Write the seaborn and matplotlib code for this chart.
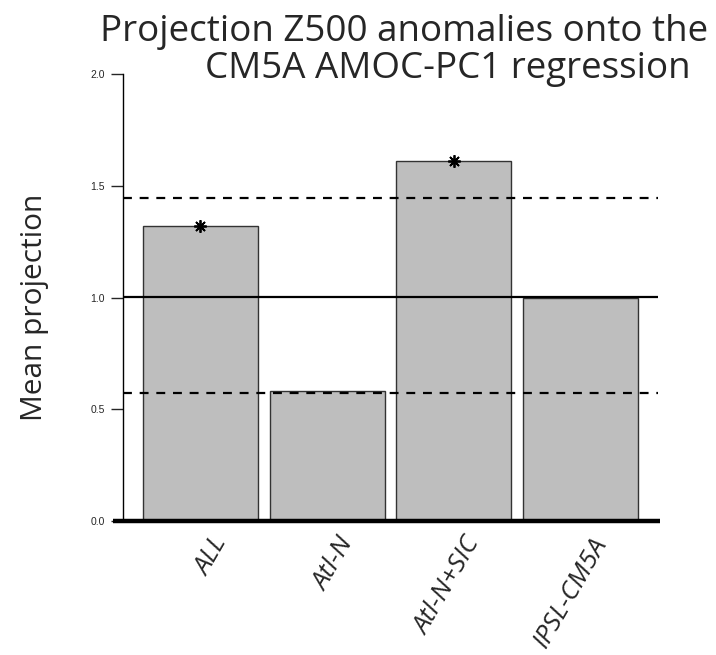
import matplotlib
matplotlib.use("Agg")
import matplotlib.pyplot as plt
import matplotlib.transforms as mtrans
import seaborn as sns
import pandas as pd

# valores
categorias = ["ALL", "Atl-N", "Atl-N+SIC", "IPSL-CM5A"]
projecao = [1.32, 0.58, 1.61, 1.00]
significativo = [True, False, True, False]
limite_sup = 1.446
limite_inf = 0.571
referencia = 1.004

df = pd.DataFrame({"categoria": categorias, "projecao": projecao})

sns.set_style("white")
plt.rcParams["font.family"] = ["Liberation Sans", "DejaVu Sans"]
fonte = ["Open Sans", "DejaVu Sans"]

fig = plt.figure(figsize=(7.16, 6.55), dpi=100)
ax = fig.add_axes([0.158, 0.2046, 0.764, 0.6824])

sns.barplot(x="categoria", y="projecao", data=df, color="#BEBEBE", saturation=1,
            width=0.908, edgecolor="#333333", linewidth=1, ax=ax)

x0, x1 = -0.61, 3.61
ax.hlines([limite_sup, limite_inf], x0, x1, colors="black", linestyles=(0, (4, 3.5)), lw=1.6)
ax.hlines(referencia, x0, x1, colors="black", lw=1.6)
ax.hlines(0, -0.69, 3.63, colors="black", lw=3.2, clip_on=False, zorder=5)

# estrelas onde e significativo
for i, (v, s) in enumerate(zip(projecao, significativo)):
    if s:
        ax.plot(i, v, marker=(8, 2, 0), color="black", ms=9, mew=1.3)

ax.set_xlim(-0.69, 3.63)
ax.set_ylim(0, 2.0)
for s in ["top", "right", "bottom"]:
    ax.spines[s].set_visible(False)
ax.spines["left"].set_position(("data", x0))
ax.spines["left"].set_bounds(0, 2.0)
ax.spines["left"].set_color("black")
ax.spines["left"].set_linewidth(1)
ax.set_yticks([0, 0.5, 1.0, 1.5, 2.0])
ax.set_yticklabels(["0.0", "0.5", "1.0", "1.5", "2.0"])
ax.tick_params(axis="y", direction="out", length=9, width=1, labelsize=7.5, pad=4, left=True)
ax.tick_params(axis="x", length=0, pad=13)
ax.set_xticks(range(len(categorias)))
ax.set_xticklabels(categorias, rotation=60, ha="right", va="center", rotation_mode="anchor",
                   fontsize=19, style="italic", family=fonte)
offset = mtrans.ScaledTranslation(21 / 100, 0, fig.dpi_scale_trans)
for lbl in ax.get_xticklabels():
    lbl.set_transform(lbl.get_transform() + offset)

ax.set_xlabel("")
ax.set_ylabel("")
fig.text(42 / 716, 1 - 307 / 655, "Mean projection", rotation=90, rotation_mode="anchor",
         ha="center", va="baseline", fontsize=21.5, family=fonte)

fig.text(100 / 716, 1 - 41 / 655, "Projection Z500 anomalies onto the", ha="left",
         va="baseline", fontsize=26.5, family=fonte)
fig.text(448 / 716, 1 - 78 / 655, "CM5A AMOC-PC1 regression", ha="center", va="baseline",
         fontsize=26.5, family=fonte)

fig.savefig("out.png", dpi=100)
